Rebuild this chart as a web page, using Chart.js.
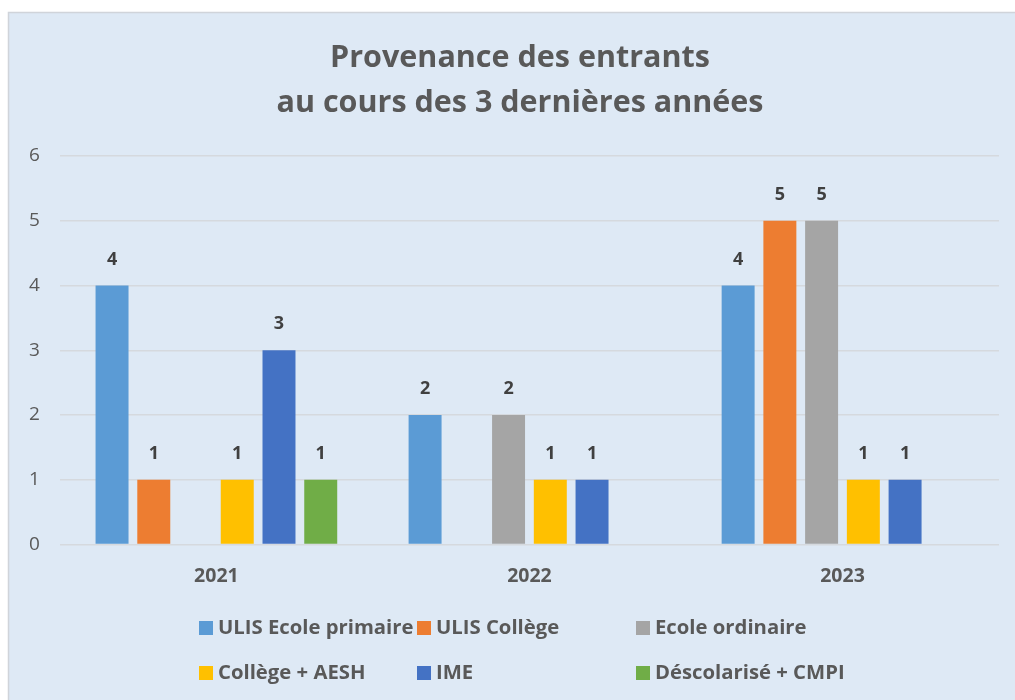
<!DOCTYPE html>
<html>
<head>
<meta charset="utf-8">
<script src="https://cdn.jsdelivr.net/npm/chart.js@4.4.1/dist/chart.umd.min.js"></script>
<style>
html,body{margin:0;padding:0;background:#fff;}
#wrap{position:absolute;left:0;top:0;width:1015px;height:700px;}
</style>
</head>
<body>
<div id="wrap"><canvas id="c" width="1015" height="700"></canvas></div>
<script>
const categories = ["2021", "2022", "2023"];
const seriesNames = ["ULIS Ecole primaire", "ULIS Collège", "Ecole ordinaire", "Collège + AESH", "IME", "Déscolarisé + CMPI"];
const ulisEcolePrimaire = [4, 2, 4];
const ulisCollege = [1, null, 5];
const ecoleOrdinaire = [null, 2, 5];
const collegeAesh = [1, 1, 1];
const ime = [3, 1, 1];
const descolarise = [1, null, null];
const yTicks = [0, 1, 2, 3, 4, 5, 6];
const titleLines = ["Provenance des entrants", "au cours des 3 dernières années"];

const colors = ["#5B9BD5", "#ED7D31", "#A5A5A5", "#FFC000", "#4472C4", "#70AD47"];
const seriesValues = [ulisEcolePrimaire, ulisCollege, ecoleOrdinaire, collegeAesh, ime, descolarise];
const FONT = "'Open Sans', Lato, sans-serif";

const bgPlugin = {
  id: 'bg',
  beforeDraw(chart) {
    const ctx = chart.ctx;
    ctx.save();
    ctx.fillStyle = '#fff';
    ctx.fillRect(0, 0, chart.width, chart.height);
    ctx.fillStyle = '#DEE9F5';
    ctx.fillRect(8, 12, chart.width, chart.height);
    ctx.strokeStyle = '#D0D4DA';
    ctx.lineWidth = 1.5;
    ctx.beginPath();
    ctx.moveTo(8.5, chart.height + 2);
    ctx.lineTo(8.5, 12.5);
    ctx.lineTo(chart.width + 2, 12.5);
    ctx.stroke();
    ctx.restore();
  }
};

const titlePlugin = {
  id: 'titleText',
  afterDraw(chart) {
    const ctx = chart.ctx;
    ctx.save();
    ctx.font = "bold 30.5px " + FONT;
    ctx.fillStyle = '#595959';
    ctx.textAlign = 'center';
    ctx.textBaseline = 'alphabetic';
    const baselines = [67, 112];
    titleLines.forEach((t, i) => ctx.fillText(t, 520, baselines[i]));
    ctx.restore();
  }
};

const labelPlugin = {
  id: 'vlabels',
  afterDatasetsDraw(chart) {
    const ctx = chart.ctx;
    ctx.save();
    ctx.font = "bold 18px " + FONT;
    ctx.fillStyle = '#404040';
    ctx.textAlign = 'center';
    ctx.textBaseline = 'middle';
    chart.data.datasets.forEach((ds, i) => {
      const meta = chart.getDatasetMeta(i);
      meta.data.forEach((el, j) => {
        const v = ds.data[j];
        if (v === null || v === undefined) return;
        ctx.fillText(String(v), el.x, el.y - 26);
      });
    });
    ctx.restore();
  }
};

const legendPlugin = {
  id: 'gridLegend',
  afterDraw(chart) {
    const ctx = chart.ctx;
    const cols = [199, 417, 636];
    const rows = [628, 673];
    ctx.save();
    ctx.font = "bold 20.3px " + FONT;
    ctx.textBaseline = 'middle';
    ctx.textAlign = 'left';
    chart.data.datasets.forEach((ds, i) => {
      const x = cols[i % 3];
      const y = rows[Math.floor(i / 3)];
      ctx.fillStyle = ds.backgroundColor;
      ctx.fillRect(x, y - 7, 14, 14);
      ctx.fillStyle = '#595959';
      ctx.fillText(ds.label, x + 19, y);
    });
    ctx.restore();
  }
};

new Chart(document.getElementById('c'), {
  type: 'bar',
  data: {
    labels: categories,
    datasets: seriesNames.map((n, i) => ({
      label: n,
      data: seriesValues[i],
      backgroundColor: colors[i],
      borderWidth: 0,
      barPercentage: 0.79,
      categoryPercentage: 0.8
    }))
  },
  options: {
    responsive: false,
    animation: false,
    devicePixelRatio: 1,
    layout: { padding: { left: 9, right: 16, top: 156, bottom: 100 } },
    plugins: {
      legend: { display: false },
      tooltip: { enabled: false },
      title: { display: false }
    },
    scales: {
      x: {
        grid: { display: false },
        border: { display: false },
        ticks: { color: '#595959', font: { family: FONT, size: 19.5, weight: 'bold' }, padding: 12 }
      },
      y: {
        min: 0, max: 6,
        afterBuildTicks(axis) { axis.ticks = yTicks.map(v => ({ value: v })); },
        grid: { color: '#D5D9DE', lineWidth: 1.5, drawTicks: false },
        border: { display: false },
        ticks: { color: '#595959', font: { family: FONT, size: 19 }, padding: 20 }
      }
    }
  },
  plugins: [bgPlugin, labelPlugin, legendPlugin, titlePlugin]
});
</script>
</body>
</html>
